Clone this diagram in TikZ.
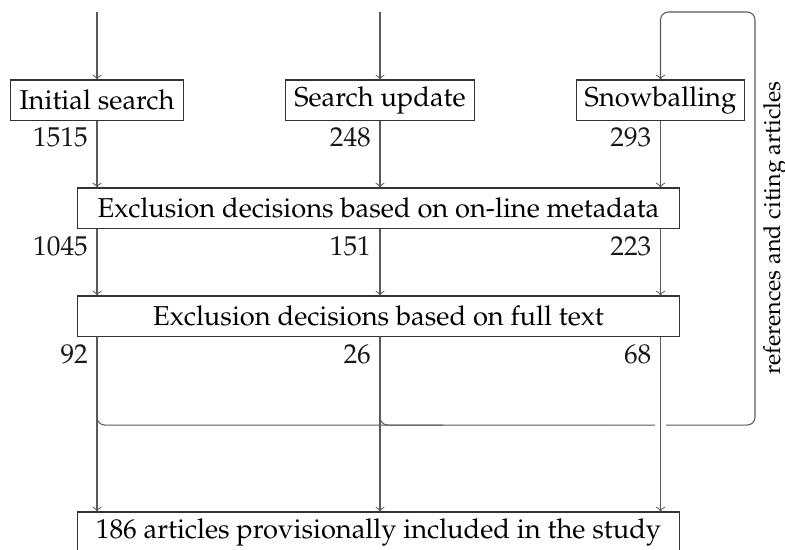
\documentclass[tikz,border=0pt]{standalone}
\usepackage[T1]{fontenc}
\usepackage{mathpazo}
\begin{document}
\begin{tikzpicture}
  [x=0.3846pt,y=-0.3846pt,font=\fontsize{10.5}{12.6}\selectfont,
  %Styles
  source/.style={draw=black!80,minimum height=15.4pt,inner ysep=0pt},
  wide/.style={draw=black!80,minimum height=15.4pt,minimum width=231.2pt,inner ysep=0pt},
  count/.style={left,text=black!90},
  flow/.style={->,black!65},
  loop line/.style={draw=black!65,rounded corners=3pt},
  gap/.style={draw=white,line width=4.6pt,shorten >=2pt,shorten <=2pt}
  ]
  \useasboundingbox (0,0) rectangle (785,549);

  %Sources
  \coordinate (t1) at (97,12);
  \coordinate (t2) at (380,12);
  \node[source] (init) at (97,100) {Initial search};
  \node[source] (upd) at (380,100) {Search update};
  \node[source] (snow) at (660.5,100) {Snowballing};

  %Exclusion steps
  \node[wide] (meta) at (378.5,208) {Exclusion decisions based on on-line metadata};
  \node[wide] (full) at (378.5,316) {Exclusion decisions based on full text};
  \node[wide] (final) at (378.5,532) {186 articles provisionally included in the study};

  %Snowballing loop
  \coordinate (join) at (443,425);
  \coordinate (mid) at (600,425);
  \coordinate (turn) at (755,12);
  \draw[loop line] (init |- full.south) |- (join);
  \draw[loop line] (upd |- full.south) |- (mid);
  \draw[loop line,<-] (snow) |- (turn) |- (mid);
  \node[rotate=90,font=\fontsize{9}{11}\selectfont] (refs) at (775,228) {references and citing articles};

  \path[flow]
    (t1) edge (init)
    (t2) edge (upd)
    (init) edge node[count,pos=.25] {1515} (init |- meta.north)
    (upd) edge node[count,pos=.25] {248} (upd |- meta.north)
    (snow) edge node[count,pos=.25] {293} (snow |- meta.north)
    (init |- meta.south) edge node[count,pos=.26] {1045} (init |- full.north)
    (upd |- meta.south) edge node[count,pos=.26] {151} (upd |- full.north)
    (snow |- meta.south) edge node[count,pos=.26] {223} (snow |- full.north)
    (init |- full.south) edge node[count,pos=.1] {92} (init |- final.north)
    (upd |- full.south) edge node[count,pos=.1] {26} (upd |- final.north);
  \draw[flow,preaction={gap,-}] (snow |- full.south) -- node[count,pos=.1] {68} (snow |- final.north);
\end{tikzpicture}
\end{document}
